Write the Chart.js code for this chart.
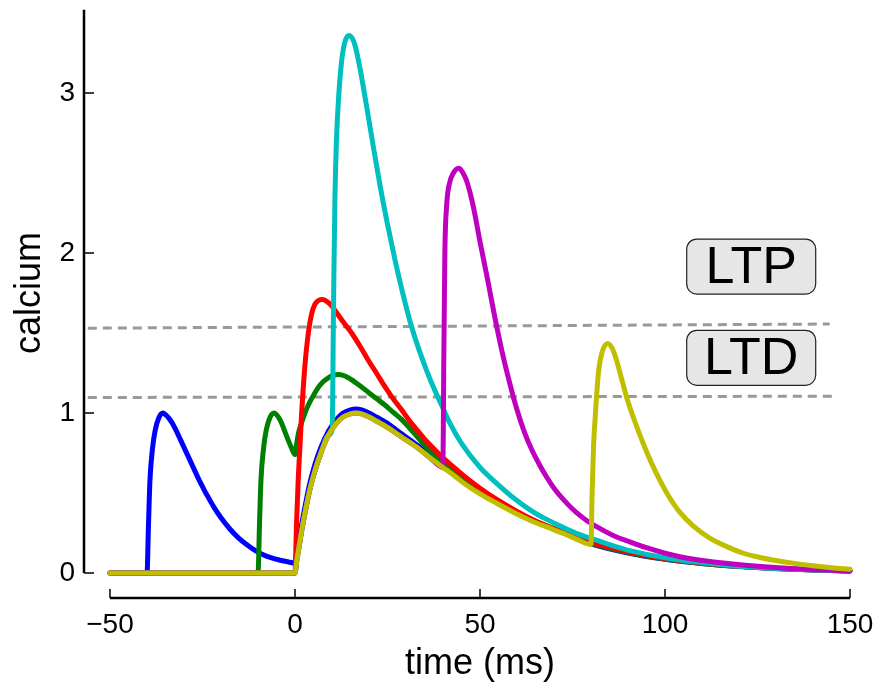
<!DOCTYPE html>
<html>
<head>
<meta charset="utf-8">
<script src="https://cdn.jsdelivr.net/npm/chart.js@4/dist/chart.umd.min.js"></script>
<style>
  body { margin: 0; background: #fff; }
  #wrap { width: 875px; height: 686px; }
</style>
</head>
<body>
<div id="wrap"><canvas id="calciumChart" width="875" height="686"></canvas></div>
<script>
// tick positions and labels
const xTicks = [-50, 0, 50, 100, 150];
const xTickLabels = ["\u221250", "0", "50", "100", "150"];
const yTicks = [0, 1, 2, 3];

// calcium traces, [time (ms), calcium]
const blueData = [[-50,0],[-40,0],[-39.6,0.3],[-39.2,0.58],[-38.5,0.78],[-37.8,0.89],[-36.8,0.97],[-35.7,1.0],[-35,0.99],[-34,0.965],[-33,0.93],[-32,0.885],[-31,0.835],[-30,0.785],[-29,0.735],[-28,0.685],[-27,0.635],[-26,0.585],[-25,0.54],[-24,0.495],[-23,0.455],[-22,0.415],[-20,0.345],[-17.6,0.275],[-15.3,0.22],[-13,0.177],[-10.8,0.142],[-8.6,0.114],[-6.3,0.094],[-4,0.08],[-2,0.07],[0,0.062],[0.5,0.135],[1,0.2],[2,0.33],[3,0.45],[4,0.56],[5.4,0.68],[7,0.785],[9,0.885],[11,0.955],[13,1.0],[15,1.02],[16.5,1.025],[18,1.02],[20,1.0],[22,0.975],[25,0.935],[28.8,0.87],[33.3,0.795],[36.5,0.735],[40,0.672],[43.2,0.615],[46,0.565],[50,0.505],[54.5,0.444],[59,0.387],[63.5,0.336],[68,0.293],[72.5,0.252],[76,0.216],[80,0.182],[90,0.125],[100,0.086],[110,0.06],[120,0.041],[135,0.023],[150,0.013]];
const greenData = [[-50,0],[-10,0],[-9.6,0.3],[-9.2,0.58],[-8.5,0.78],[-7.8,0.89],[-6.8,0.97],[-5.7,1.0],[-5,0.99],[-4,0.955],[-3,0.9],[-2,0.84],[-1,0.785],[0,0.74],[0.4,0.8],[0.9,0.87],[1.8,0.94],[2.7,1.0],[3.6,1.05],[5,1.11],[6.3,1.16],[7.6,1.195],[9,1.22],[10.3,1.235],[11.7,1.24],[13,1.235],[14.4,1.22],[17,1.18],[19.8,1.13],[22,1.09],[24.3,1.05],[26.5,1.005],[28.8,0.96],[31,0.905],[33.3,0.845],[36,0.775],[39.6,0.7],[43.2,0.625],[46,0.575],[50,0.512],[54.5,0.448],[59,0.39],[63.5,0.338],[68,0.295],[72.5,0.254],[80,0.185],[90,0.128],[100,0.087],[110,0.06],[120,0.042],[135,0.024],[150,0.013]];
const redData = [[-50,0],[0,0],[0.4,0.3],[0.9,0.6],[1.8,1.0],[2.7,1.3],[3.6,1.5],[4.5,1.62],[5.4,1.68],[6.5,1.705],[7.5,1.71],[8.7,1.695],[9.9,1.67],[11,1.635],[13,1.57],[15.3,1.5],[17.5,1.42],[19.8,1.33],[22,1.25],[24.3,1.165],[26.5,1.09],[28.8,1.02],[31,0.95],[33.3,0.885],[35.5,0.825],[37.8,0.77],[40,0.72],[43.2,0.655],[45.5,0.61],[50,0.53],[54.5,0.46],[60,0.385],[65,0.325],[70,0.275],[75,0.232],[80,0.192],[85,0.16],[90,0.133],[100,0.09],[110,0.062],[120,0.042],[135,0.024],[150,0.013]];
const cyanData = [[-50,0],[0,0],[0.5,0.08],[1,0.15],[2,0.29],[3,0.41],[4,0.52],[5.4,0.64],[7,0.75],[9,0.86],[10.1,0.9],[10.3,1.4],[10.5,1.85],[10.8,2.35],[11.2,2.7],[11.7,2.94],[12.6,3.2],[13.5,3.32],[14.6,3.36],[15.5,3.34],[16.2,3.3],[17.6,3.15],[19.4,2.91],[21.2,2.66],[23,2.42],[25,2.18],[27,1.96],[29,1.76],[31,1.58],[33.3,1.41],[35.5,1.27],[37.8,1.14],[40,1.03],[42,0.93],[45,0.81],[50,0.66],[54.5,0.56],[59,0.47],[63.5,0.395],[68,0.335],[72.5,0.285],[77,0.24],[81.5,0.205],[86,0.17],[90.5,0.14],[100,0.095],[108.6,0.068],[120,0.042],[130,0.028],[140,0.019],[150,0.012]];
const magentaData = [[-50,0],[0,0],[0.5,0.08],[1,0.15],[2,0.29],[3,0.41],[4,0.52],[5.4,0.64],[7,0.75],[9,0.86],[11,0.93],[13,0.975],[15,0.995],[16.5,1.0],[18,0.995],[20,0.975],[22,0.95],[25,0.91],[28.8,0.85],[33.3,0.78],[36.5,0.72],[40,0.66],[40.2,1.3],[40.5,2.0],[41,2.3],[41.6,2.42],[42.8,2.5],[44.3,2.53],[45.4,2.5],[46.4,2.45],[48.2,2.29],[50,2.07],[52,1.84],[54,1.6],[56,1.38],[58,1.19],[60,1.02],[62,0.88],[64,0.77],[66,0.68],[68,0.6],[70,0.53],[72.5,0.46],[75,0.4],[77,0.36],[79,0.325],[81.5,0.29],[86,0.235],[90.5,0.195],[95,0.158],[99.5,0.127],[104,0.102],[110,0.078],[117.6,0.058],[125,0.042],[135,0.027],[150,0.013]];
const yellowData = [[-50,0],[0,0],[0.5,0.08],[1,0.15],[2,0.29],[3,0.41],[4,0.52],[5.4,0.64],[7,0.75],[9,0.86],[11,0.93],[13,0.975],[15,0.995],[16.5,1.0],[18,0.995],[20,0.975],[22,0.95],[25,0.91],[28.8,0.85],[33.3,0.78],[36.5,0.72],[40,0.66],[43.2,0.605],[46,0.555],[50,0.495],[54.5,0.436],[59,0.38],[63.5,0.33],[68,0.288],[72.5,0.248],[76,0.212],[80,0.178],[80.3,0.5],[80.7,0.8],[81.1,0.96],[82,1.25],[83,1.38],[84.5,1.435],[85.7,1.405],[86.9,1.33],[88.2,1.22],[89.6,1.1],[91.8,0.95],[94.1,0.81],[96.3,0.69],[98.6,0.58],[101,0.48],[104,0.38],[107.6,0.295],[112,0.22],[116.7,0.165],[121,0.125],[125.7,0.097],[130,0.078],[135,0.06],[140,0.045],[145,0.033],[150,0.024]];

// plasticity thresholds (dashed)
const ltpLine = [[-56,1.53],[144.5,1.556]];
const ltdLine = [[-56,1.097],[146.5,1.105]];

// threshold labels
const boxLabels = ["LTP", "LTD"];
const boxX = [123.3, 123.3];
const boxY = [1.915, 1.345];

const ctx = document.getElementById("calciumChart").getContext("2d");

function trace(data, color, order) {
  return {
    data: data,
    borderColor: color,
    borderWidth: 5,
    pointRadius: 0,
    cubicInterpolationMode: "monotone",
    borderCapStyle: "round",
    borderJoinStyle: "round",
    clip: false,
    order: order,
  };
}

function dashed(data) {
  return {
    data: data,
    borderColor: "#999999",
    borderWidth: 3,
    borderDash: [9, 6],
    pointRadius: 0,
    clip: false,
    order: 10,
  };
}

// drop the extra room chart.js keeps for the edge labels
function fixBox(s, size) {
  if (s.isHorizontal()) s.height = size; else s.width = size;
  s.paddingTop = 0;
  s.paddingBottom = 0;
  s.paddingLeft = 0;
  s.paddingRight = 0;
}

// axis spines, tick marks and the LTP/LTD boxes
const framePlugin = {
  id: "frame",
  afterDraw(chart) {
    const c = chart.ctx;
    const xs = chart.scales.x;
    const ys = chart.scales.y;
    const area = chart.chartArea;
    const spineX = area.left - 26;
    const spineY = area.bottom + 25;

    c.save();
    c.strokeStyle = "#000";
    c.lineCap = "butt";

    // y spine
    c.lineWidth = 2.5;
    c.beginPath();
    c.moveTo(spineX, ys.getPixelForValue(3.52));
    c.lineTo(spineX, ys.getPixelForValue(0));
    c.stroke();
    c.lineWidth = 1.5;
    yTicks.forEach(v => {
      const py = ys.getPixelForValue(v);
      c.beginPath();
      c.moveTo(spineX, py);
      c.lineTo(spineX + 10, py);
      c.stroke();
    });

    // x spine
    c.lineWidth = 2.5;
    c.beginPath();
    c.moveTo(xs.getPixelForValue(-50), spineY);
    c.lineTo(xs.getPixelForValue(150), spineY);
    c.stroke();
    c.lineWidth = 1.5;
    xTicks.forEach(v => {
      const px = xs.getPixelForValue(v);
      c.beginPath();
      c.moveTo(px, spineY);
      c.lineTo(px, spineY - 9);
      c.stroke();
    });

    // label boxes
    boxLabels.forEach((txt, i) => {
      const cx = xs.getPixelForValue(boxX[i]);
      const cy = ys.getPixelForValue(boxY[i]);
      const w = 129, h = 55;
      c.beginPath();
      c.roundRect(cx - w / 2, cy - h / 2, w, h, 10);
      c.fillStyle = "#e6e6e6";
      c.fill();
      c.lineWidth = 1.2;
      c.strokeStyle = "#222";
      c.stroke();
      c.fillStyle = "#000";
      c.font = "52px 'Liberation Sans', Arial, sans-serif";
      c.textAlign = "center";
      c.textBaseline = "middle";
      c.fillText(txt, cx, cy + 2);
    });
    c.restore();
  },
};

const chart = new Chart(ctx, {
  type: "line",
  data: {
    datasets: [
      trace(yellowData, "#bfbf00", 0),
      trace(magentaData, "#bf00bf", 1),
      trace(cyanData, "#00bfbf", 2),
      trace(redData, "#ff0000", 3),
      trace(greenData, "#008000", 4),
      trace(blueData, "#0000ff", 5),
      dashed(ltpLine),
      dashed(ltdLine),
    ],
  },
  options: {
    responsive: false,
    animation: false,
    layout: { padding: { left: 0, right: 25, top: 13, bottom: 0 } },
    plugins: { legend: { display: false }, tooltip: { enabled: false } },
    scales: {
      x: {
        type: "linear",
        min: -50,
        max: 150,
        afterFit: s => fixBox(s, 113),
        afterBuildTicks: s => { s.ticks = xTicks.map(v => ({ value: v })); },
        grid: { display: false, drawTicks: false },
        border: { display: false },
        ticks: {
          padding: 35,
          color: "#000",
          maxRotation: 0,
          font: { family: "'Liberation Sans', Arial, sans-serif", size: 28 },
          callback: (v) => xTickLabels[xTicks.indexOf(v)],
        },
        title: {
          display: true,
          text: "time (ms)",
          color: "#000",
          padding: { top: 0, bottom: 0 },
          font: { family: "'Liberation Sans', Arial, sans-serif", size: 36 },
        },
      },
      y: {
        type: "linear",
        min: 0,
        max: 3.5,
        afterFit: s => fixBox(s, 110),
        afterBuildTicks: s => { s.ticks = yTicks.map(v => ({ value: v })); },
        grid: { display: false, drawTicks: false },
        border: { display: false },
        ticks: {
          padding: 35,
          color: "#000",
          font: { family: "'Liberation Sans', Arial, sans-serif", size: 28 },
        },
        title: {
          display: true,
          text: "calcium",
          color: "#000",
          padding: { top: 8, bottom: 0 },
          font: { family: "'Liberation Sans', Arial, sans-serif", size: 36 },
        },
      },
    },
  },
  plugins: [framePlugin],
});
</script>
</body>
</html>
